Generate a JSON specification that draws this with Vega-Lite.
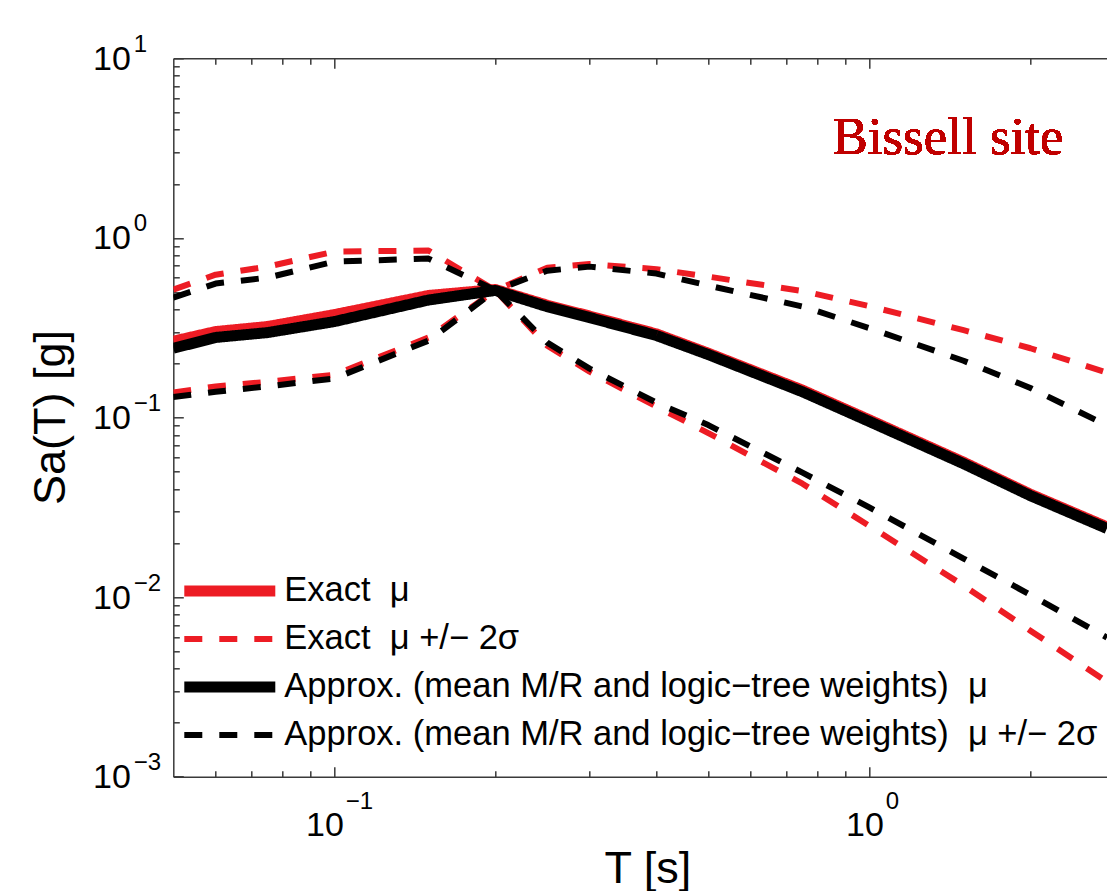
{
  "$schema": "https://vega.github.io/schema/vega-lite/v6.json",
  "width": 933.7,
  "height": 718.4,
  "autosize": {"type": "none"},
  "padding": {"left": 173.3, "top": 58.3, "right": 0, "bottom": 114.3},
  "background": "white",
  "config": {"view": {"stroke": null}, "font": "Liberation Sans"},
  "data": {"values": [
    {"s":"em","b":"m","T":0.05,"Sa":0.266},{"s":"em","b":"m","T":0.06,"Sa":0.301},{"s":"em","b":"m","T":0.075,"Sa":0.321},{"s":"em","b":"m","T":0.1,"Sa":0.374},{"s":"em","b":"m","T":0.15,"Sa":0.478},{"s":"em","b":"m","T":0.2,"Sa":0.516},{"s":"em","b":"m","T":0.25,"Sa":0.422},{"s":"em","b":"m","T":0.3,"Sa":0.367},{"s":"em","b":"m","T":0.4,"Sa":0.292},{"s":"em","b":"m","T":0.5,"Sa":0.228},{"s":"em","b":"m","T":0.75,"Sa":0.142},{"s":"em","b":"m","T":1,"Sa":0.097},{"s":"em","b":"m","T":1.5,"Sa":0.0564},{"s":"em","b":"m","T":2,"Sa":0.0374},{"s":"em","b":"m","T":2.78,"Sa":0.0246},
    {"s":"eb","b":"u","T":0.05,"Sa":0.515},{"s":"eb","b":"u","T":0.06,"Sa":0.624},{"s":"eb","b":"u","T":0.075,"Sa":0.692},{"s":"eb","b":"u","T":0.1,"Sa":0.839},{"s":"eb","b":"u","T":0.15,"Sa":0.85},{"s":"eb","b":"u","T":0.2,"Sa":0.51},{"s":"eb","b":"u","T":0.25,"Sa":0.683},{"s":"eb","b":"u","T":0.3,"Sa":0.715},{"s":"eb","b":"u","T":0.4,"Sa":0.67},{"s":"eb","b":"u","T":0.5,"Sa":0.609},{"s":"eb","b":"u","T":0.75,"Sa":0.506},{"s":"eb","b":"u","T":1,"Sa":0.417},{"s":"eb","b":"u","T":1.5,"Sa":0.3065},{"s":"eb","b":"u","T":2,"Sa":0.243},{"s":"eb","b":"u","T":2.78,"Sa":0.178},
    {"s":"eb","b":"l","T":0.05,"Sa":0.138},{"s":"eb","b":"l","T":0.06,"Sa":0.149},{"s":"eb","b":"l","T":0.075,"Sa":0.158},{"s":"eb","b":"l","T":0.1,"Sa":0.173},{"s":"eb","b":"l","T":0.15,"Sa":0.279},{"s":"eb","b":"l","T":0.2,"Sa":0.51},{"s":"eb","b":"l","T":0.25,"Sa":0.251},{"s":"eb","b":"l","T":0.3,"Sa":0.18},{"s":"eb","b":"l","T":0.4,"Sa":0.115},{"s":"eb","b":"l","T":0.5,"Sa":0.0819},{"s":"eb","b":"l","T":0.75,"Sa":0.0428},{"s":"eb","b":"l","T":1,"Sa":0.0249},{"s":"eb","b":"l","T":1.5,"Sa":0.0116},{"s":"eb","b":"l","T":2,"Sa":0.0065},{"s":"eb","b":"l","T":2.78,"Sa":0.00338},
    {"s":"am","b":"m","T":0.05,"Sa":0.243},{"s":"am","b":"m","T":0.06,"Sa":0.279},{"s":"am","b":"m","T":0.075,"Sa":0.297},{"s":"am","b":"m","T":0.1,"Sa":0.342},{"s":"am","b":"m","T":0.15,"Sa":0.451},{"s":"am","b":"m","T":0.2,"Sa":0.51},{"s":"am","b":"m","T":0.25,"Sa":0.414},{"s":"am","b":"m","T":0.3,"Sa":0.36},{"s":"am","b":"m","T":0.4,"Sa":0.286},{"s":"am","b":"m","T":0.5,"Sa":0.224},{"s":"am","b":"m","T":0.75,"Sa":0.139},{"s":"am","b":"m","T":1,"Sa":0.095},{"s":"am","b":"m","T":1.5,"Sa":0.0553},{"s":"am","b":"m","T":2,"Sa":0.0367},{"s":"am","b":"m","T":2.78,"Sa":0.0241},
    {"s":"ab","b":"u","T":0.05,"Sa":0.465},{"s":"ab","b":"u","T":0.06,"Sa":0.557},{"s":"ab","b":"u","T":0.075,"Sa":0.601},{"s":"ab","b":"u","T":0.1,"Sa":0.738},{"s":"ab","b":"u","T":0.15,"Sa":0.767},{"s":"ab","b":"u","T":0.2,"Sa":0.51},{"s":"ab","b":"u","T":0.25,"Sa":0.657},{"s":"ab","b":"u","T":0.3,"Sa":0.692},{"s":"ab","b":"u","T":0.4,"Sa":0.633},{"s":"ab","b":"u","T":0.5,"Sa":0.543},{"s":"ab","b":"u","T":0.75,"Sa":0.415},{"s":"ab","b":"u","T":1,"Sa":0.3146},{"s":"ab","b":"u","T":1.5,"Sa":0.207},{"s":"ab","b":"u","T":2,"Sa":0.146},{"s":"ab","b":"u","T":2.78,"Sa":0.0903},
    {"s":"ab","b":"l","T":0.05,"Sa":0.13},{"s":"ab","b":"l","T":0.06,"Sa":0.139},{"s":"ab","b":"l","T":0.075,"Sa":0.149},{"s":"ab","b":"l","T":0.1,"Sa":0.165},{"s":"ab","b":"l","T":0.15,"Sa":0.268},{"s":"ab","b":"l","T":0.2,"Sa":0.51},{"s":"ab","b":"l","T":0.25,"Sa":0.261},{"s":"ab","b":"l","T":0.3,"Sa":0.187},{"s":"ab","b":"l","T":0.4,"Sa":0.121},{"s":"ab","b":"l","T":0.5,"Sa":0.0907},{"s":"ab","b":"l","T":0.75,"Sa":0.0493},{"s":"ab","b":"l","T":1,"Sa":0.0316},{"s":"ab","b":"l","T":1.5,"Sa":0.0164},{"s":"ab","b":"l","T":2,"Sa":0.0103},{"s":"ab","b":"l","T":2.78,"Sa":0.00595}
  ]},
  "layer": [
    {
      "mark": {"type": "line", "strokeJoin": "round", "clip": true},
      "encoding": {
        "x": {"field": "T", "type": "quantitative",
          "scale": {"type": "log", "domain": [0.05, 2.781], "nice": false},
          "axis": {"orient": "bottom", "values": [0.1, 1], "labelExpr": "'10'", "ticks": false, "tickSize": 0,
            "domain": true, "domainColor": "#3a3a3a", "domainWidth": 1.5, "grid": false,
            "labelFont": "Liberation Sans", "labelFontSize": 34, "labelColor": "#000000", "labelAlign": "right", "labelBaseline": "alphabetic",
            "labelPadding": 58.3, "labelOffset": {"condition": {"test": "datum.value < 0.5", "value": 9}, "value": 14},
            "labelFlush": false, "labelOverlap": false,
            "title": "T [s]", "titleFont": "Liberation Sans", "titleFontSize": 45, "titleFontWeight": "normal", "titleColor": "#000000",
            "titleX": 474, "titleY": 105.3, "titleBaseline": "alphabetic", "titleAlign": "center"}},
        "y": {"field": "Sa", "type": "quantitative",
          "scale": {"type": "log", "domain": [0.001, 10], "nice": false},
          "axis": {"orient": "left", "values": [0.001, 0.01, 0.1, 1, 10], "labelExpr": "'10'", "ticks": false, "tickSize": 0,
            "domain": true, "domainColor": "#3a3a3a", "domainWidth": 1.5, "grid": false,
            "labelFont": "Liberation Sans", "labelFontSize": 34, "labelColor": "#000000", "labelAlign": "right", "labelBaseline": "middle",
            "labelPadding": 43, "labelOffset": 1, "labelFlush": false, "labelOverlap": false,
            "title": "Sa(T) [g]", "titleFont": "Liberation Sans", "titleFontSize": 45, "titleFontWeight": "normal", "titleColor": "#000000",
            "titleX": -108.8, "titleY": 358.7, "titleBaseline": "alphabetic", "titleAlign": "center", "titleAngle": 270}},
        "color": {"field": "s", "type": "nominal",
          "scale": {"domain": ["em", "eb", "am", "ab"], "range": ["#ED1C24", "#ED1C24", "#000000", "#000000"]},
          "legend": {"orient": "none", "legendX": 5.5, "legendY": 509, "title": null, "padding": 0,
            "symbolType": "stroke", "symbolSize": 8281, "labelFont": "Liberation Sans", "labelFontSize": 34.5, "labelColor": "#000000",
            "labelLimit": 0, "labelOffset": 3.5, "rowPadding": 0, "clipHeight": 47.3,
            "labelExpr": "datum.value == 'em' ? 'Exact\u00a0\u00a0μ' : datum.value == 'eb' ? 'Exact\u00a0\u00a0μ +/− 2σ' : datum.value == 'am' ? 'Approx. (mean M/R and logic−tree weights)\u00a0\u00a0μ' : 'Approx. (mean M/R and logic−tree weights)\u00a0\u00a0μ +/− 2σ'"}},
        "strokeDash": {"field": "s", "type": "nominal",
          "scale": {"domain": ["em", "eb", "am", "ab"], "range": [[1, 0], [18, 17], [1, 0], [18, 17]]}},
        "strokeWidth": {"field": "s", "type": "nominal",
          "scale": {"type": "ordinal", "domain": ["em", "eb", "am", "ab"], "range": [11, 6, 11, 6]}},
        "detail": {"field": "b", "type": "nominal"}
      }
    },
    {
      "mark": {"type": "point", "opacity": 0},
      "encoding": {
        "x": {"field": "T", "type": "quantitative",
          "axis": {"orient": "bottom", "values": [0.06, 0.07, 0.08, 0.09, 0.1, 0.2, 0.3, 0.4, 0.5, 0.6, 0.7, 0.8, 0.9, 1, 2],
            "labels": false, "domain": false, "grid": false, "ticks": true, "tickColor": "#3a3a3a", "tickWidth": 1.5,
            "tickSize": {"condition": {"test": "datum.value == 0.1 || datum.value == 1", "value": -10}, "value": -6}, "title": null}},
        "y": {"field": "Sa", "type": "quantitative",
          "axis": {"orient": "left", "values": [0.001, 0.002, 0.003, 0.004, 0.005, 0.006, 0.007, 0.008, 0.009, 0.01, 0.02, 0.03, 0.04, 0.05, 0.06, 0.07, 0.08, 0.09, 0.1, 0.2, 0.3, 0.4, 0.5, 0.6, 0.7, 0.8, 0.9, 1, 2, 3, 4, 5, 6, 7, 8, 9, 10],
            "labels": false, "domain": false, "grid": false, "ticks": true, "tickColor": "#3a3a3a", "tickWidth": 1.5,
            "tickSize": {"condition": {"test": "indexof([0.001, 0.01, 0.1, 1, 10], datum.value) >= 0", "value": -10}, "value": -6}, "title": null}}
      }
    },
    {
      "mark": {"type": "point", "opacity": 0},
      "encoding": {
        "x": {"field": "T", "type": "quantitative",
          "axis": {"orient": "bottom", "values": [0.1, 1], "labelExpr": "datum.value < 0.5 ? '−1' : '0'", "ticks": false, "tickSize": 0,
            "domain": false, "grid": false, "labelFont": "Liberation Sans", "labelFontSize": 24, "labelColor": "#000000", "labelAlign": "left",
            "labelBaseline": "alphabetic", "labelPadding": 31.3, "labelOffset": {"condition": {"test": "datum.value < 0.5", "value": 11}, "value": 16},
            "labelFlush": false, "labelOverlap": false, "title": null}},
        "y": {"field": "Sa", "type": "quantitative",
          "axis": {"orient": "left", "values": [0.001, 0.01, 0.1, 1, 10], "labelExpr": "replace(toString(round(log(datum.value)/LN10)), '-', '−')",
            "ticks": false, "tickSize": 0, "domain": false, "grid": false, "labelFont": "Liberation Sans", "labelFontSize": 24, "labelColor": "#000000",
            "labelAlign": "left", "labelBaseline": "middle", "labelPadding": 40, "labelOffset": -14, "labelFlush": false, "labelOverlap": false, "title": null}}
      }
    },
    {
      "mark": {"type": "point", "opacity": 0},
      "encoding": {
        "x": {"field": "T", "type": "quantitative",
          "axis": {"orient": "top", "values": [0.06, 0.07, 0.08, 0.09, 0.1, 0.2, 0.3, 0.4, 0.5, 0.6, 0.7, 0.8, 0.9, 1, 2],
            "labels": false, "domain": true, "domainColor": "#3a3a3a", "domainWidth": 1.5, "grid": false, "ticks": true, "tickColor": "#3a3a3a", "tickWidth": 1.5,
            "tickSize": {"condition": {"test": "datum.value == 0.1 || datum.value == 1", "value": -10}, "value": -6}, "title": null}},
        "y": {"field": "Sa", "type": "quantitative", "axis": null}
      }
    },
    {
      "mark": {"type": "text", "text": "Bissell site", "font": "Liberation Serif", "fontSize": 53, "color": "#C00000", "align": "left", "baseline": "alphabetic"},
      "encoding": {
        "x": {"datum": 0.853, "type": "quantitative", "axis": null},
        "y": {"datum": 2.947, "type": "quantitative", "axis": null}
      }
    }
  ],
  "resolve": {"axis": {"x": "independent", "y": "independent"}}
}
